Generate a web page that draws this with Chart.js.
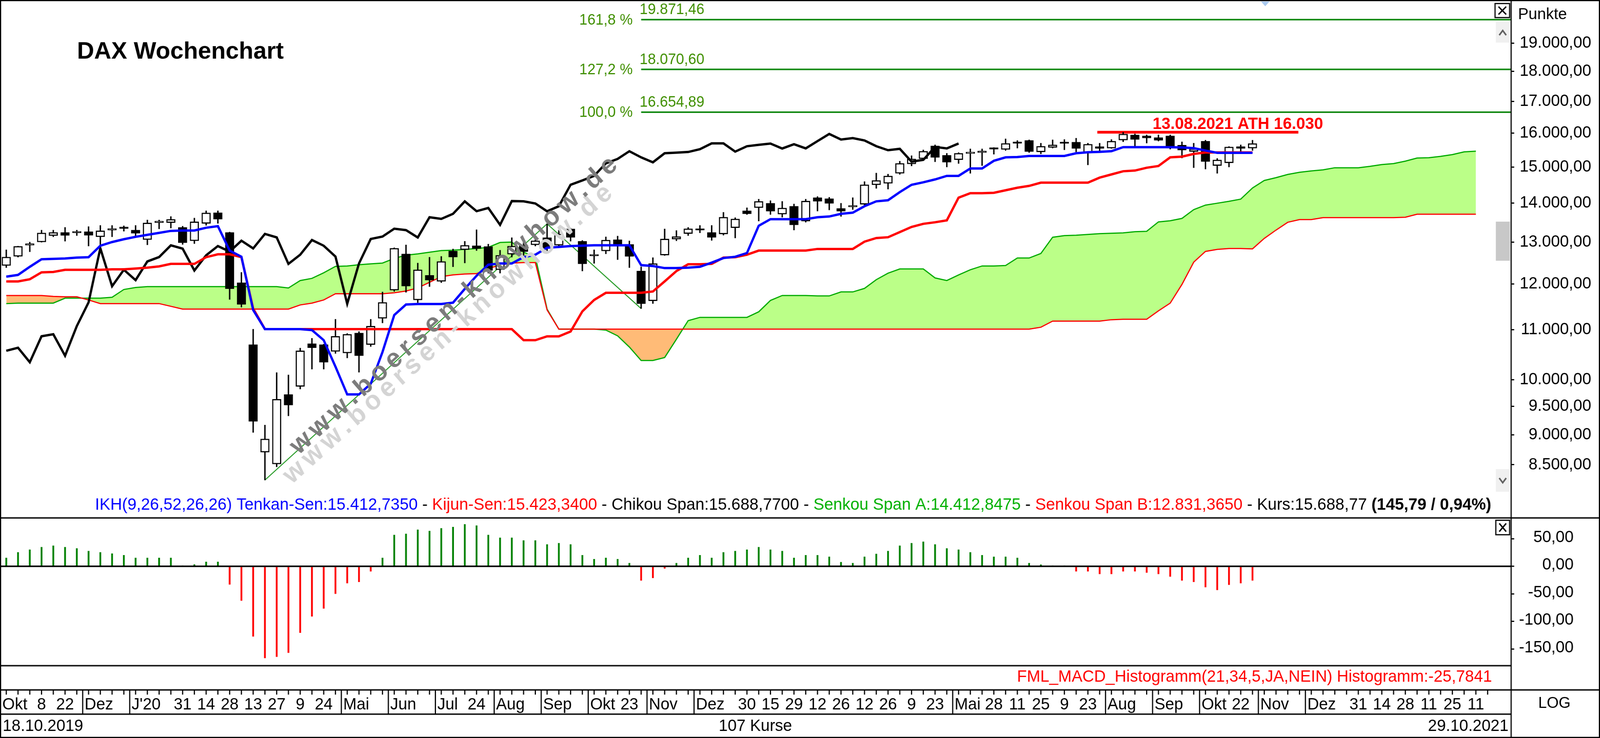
<!DOCTYPE html>
<html lang="de">
<head>
<meta charset="utf-8">
<title>DAX Wochenchart</title>
<script src="https://cdn.jsdelivr.net/npm/chart.js@4.4.1/dist/chart.umd.min.js"></script>
<style>
  html, body { margin: 0; padding: 0; background: #fff; overflow: hidden; }
  canvas { display: block; }
</style>
</head>
<body>
<canvas id="daxChart" width="4177" height="1888" style="width: 100vw; height: 100vh;"></canvas>
<script>
// weekly candles, 18.10.2019 (week 0) .. 29.10.2021 (week 106)
const opens = [12430, 12650, 12920, 13000, 13160, 13240, 13230, 13260, 13130, 13300,
  13380, 13300, 13060, 13490, 13490, 13370, 13030, 13470, 13750, 13240,
  12030, 10690, 8706, 8511, 9720, 9870, 10710, 10690, 10550, 10520,
  10930, 10690, 11240, 11860, 12710, 11640, 12200, 12060, 12780, 12810,
  12910, 12890, 12330, 12700, 12920, 12930, 13110, 12920, 13330, 13020,
  12660, 12780, 13060, 12940, 12300, 11620, 12680, 13070, 13210, 13320,
  13240, 13200, 13360, 13800, 13880, 14000, 13710, 13920, 13530, 14150,
  14120, 13860, 13900, 13970, 14500, 14540, 14820, 15090, 15240, 15620,
  15340, 15210, 15390, 15420, 15560, 15510, 15740, 15780, 15440, 15570,
  15700, 15730, 15420, 15600, 15550, 15790, 15950, 15920, 15870, 15920,
  15640, 15450, 15760, 15040, 15120, 15600, 15550];
const highs = [12810, 12900, 13000, 13300, 13300, 13370, 13300, 13390, 13420, 13420,
  13410, 13420, 13560, 13560, 13650, 13400, 13610, 13800, 13800, 13250,
  12270, 11010, 9170, 10135, 10090, 10620, 10820, 10700, 11220, 10920,
  10960, 11220, 11820, 12860, 12930, 12490, 12630, 12650, 12830, 13020,
  13310, 12950, 12800, 13110, 12990, 13100, 13460.45, 13300, 13350, 13040,
  12810, 13130, 13150, 13030, 12400, 12620, 13330, 13290, 13370, 13420,
  13420, 13760, 13620, 13880, 14110, 14070, 14050, 13980, 14110, 14180,
  14160, 14000, 14150, 14590, 14830, 14800, 15170, 15330, 15500, 15650,
  15400, 15420, 15530, 15530, 15570, 15830, 15780, 15800, 15700, 15800,
  15810, 15850, 15700, 15700, 15810, 16030, 15980, 15950, 15950, 15950,
  15740, 15700, 15790, 15250, 15600, 15650, 15790];
const lows = [12380, 12630, 12760, 12995, 13130, 13020, 13160, 12900, 12880, 13130,
  13270, 13160, 12930, 13330, 13350, 12940, 12960, 13420, 13470, 11650,
  11480, 9040, 8255.65, 8465, 9330, 9820, 10200, 10200, 10510, 10420,
  10140, 10650, 11140, 11830, 11810, 11580, 11940, 12030, 12400, 12490,
  12790, 12250, 12250, 12630, 12670, 12900, 12720, 12900, 13020, 12300,
  12480, 12710, 12570, 12380, 11450.08, 11560, 12670, 13030, 13160, 13230,
  13040, 13170, 13100, 13700, 13530, 13700, 13630, 13300, 13500, 13790,
  13820, 13650, 13830, 13940, 14400, 14380, 14790, 15030, 15200, 15150,
  15000, 15100, 14820, 15040, 15370, 15480, 15550, 15420, 15380, 15550,
  15500, 15440, 15060, 15470, 15540, 15740, 15560, 15700, 15760, 15520,
  15260, 14980, 14940, 14820, 15000, 15400, 15480];
const closes = [12634, 12895, 12961, 13229, 13242, 13164, 13236, 13167, 13283, 13319,
  13337, 13219, 13483, 13526, 13577, 12982, 13514, 13744, 13579, 11890,
  11541, 9232, 8929, 9632, 9525, 10565, 10626, 10336, 10861, 10904,
  10465, 11074, 11587, 12848, 11949, 12331, 12089, 12528, 12633, 12920,
  12838, 12313, 12675, 12901, 12765, 13033, 12842, 13203, 13116, 12469,
  12689, 13051, 12909, 12646, 11556, 12480, 13077, 13137, 13336, 13299,
  13114, 13631, 13587, 13719, 14050, 13788, 13874, 13433, 14057, 14050,
  13993, 13786, 13920, 14502, 14621, 14749, 15107, 15234, 15460, 15280,
  15136, 15400, 15417, 15437, 15520, 15693, 15693, 15448, 15608, 15650,
  15688, 15540, 15669, 15544, 15761, 15977, 15808, 15852, 15781, 15609,
  15490, 15531, 15156, 15206, 15587, 15542.98, 15688.77];

// Ichimoku lines
const tenkan = [12170, 12210, 12400, 12580, 12590, 12600, 12620, 12630, 12910, 13000,
  13070, 13130, 13180, 13230, 13280, 13290, 13290, 13360, 13400, 12790,
  12640, 11420, 11010, 11010, 11010, 11010, 10990, 10780, 10250, 9720,
  9720, 9920, 10540, 11310, 11540, 11550, 11550, 11550, 11580, 11890,
  12190, 12450, 12480, 12480, 12630, 12690, 12860, 12880, 12900, 12910,
  12920, 12920, 12920, 12920, 12440, 12420, 12370, 12370, 12380, 12400,
  12500, 12610, 12640, 12730, 13410, 13580, 13580, 13580, 13580, 13630,
  13650, 13720, 13750, 13920, 14050, 14080, 14300, 14500, 14570, 14650,
  14750, 14750, 14960, 14960, 15180, 15280, 15290, 15320, 15320, 15320,
  15320, 15400, 15430, 15440, 15460, 15580, 15580, 15580, 15580, 15580,
  15570, 15550, 15480, 15413, 15413, 15413, 15412.735];
const kijun = [12060, 12060, 12110, 12270, 12280, 12330, 12330, 12330, 12330, 12340,
  12340, 12360, 12380, 12410, 12470, 12470, 12470, 12630, 12700, 12700,
  12630, 11450, 11010, 11010, 11010, 11010, 11010, 11010, 11010, 11010,
  11010, 11010, 11010, 11010, 11010, 11010, 11010, 11010, 11010, 11010,
  11010, 11010, 11010, 11010, 10780, 10780, 10860, 10860, 10960, 11390,
  11640, 11800, 11800, 11800, 11800, 11830, 12060, 12300, 12460, 12460,
  12470, 12620, 12630, 12690, 12790, 12790, 12790, 12790, 12790, 12830,
  12830, 12830, 12830, 13010, 13100, 13120, 13250, 13380, 13460, 13500,
  13550, 14150, 14270, 14270, 14280, 14350, 14420, 14470, 14560, 14560,
  14560, 14560, 14560, 14700, 14790, 14880, 14900, 14980, 15030, 15280,
  15300, 15380, 15423, 15423, 15423, 15423, 15423.34];
// cloud, runs 19 weeks past the last candle
const senkouA = [11560, 11570, 11570, 11570, 11570, 11680, 11680, 11680, 11680, 11700,
  11875, 11920, 11940, 11940, 11940, 11940, 11940, 11940, 11940, 11940,
  11940, 11940, 11940, 11940, 11910, 12080, 12130, 12260, 12410, 12420,
  12450, 12470, 12490, 12600, 12680, 12710, 12750, 12790, 12800, 12820,
  12840, 12870, 12990, 13000, 12750, 12640, 11440, 11010, 11010, 11010,
  11010, 10990, 10870, 10640, 10370, 10370, 10430, 10800, 11190, 11260,
  11260, 11260, 11260, 11260, 11380, 11630, 11740, 11740, 11740, 11730,
  11730, 11820, 11820, 11900, 12100, 12250, 12350, 12350, 12350, 12140,
  12080, 12210, 12330, 12420, 12420, 12430, 12610, 12610, 12720, 13120,
  13160, 13170, 13190, 13210, 13220, 13230, 13260, 13270, 13510, 13540,
  13600, 13830, 13950, 14000, 14050, 14110, 14412.8475, 14620, 14700, 14790,
  14850, 14890, 14920, 14980, 14980, 14980, 15020, 15070, 15100, 15170,
  15260, 15270, 15310, 15360, 15440, 15460];
const senkouB = [11740, 11740, 11740, 11740, 11720, 11710, 11710, 11640, 11560, 11560,
  11560, 11560, 11560, 11560, 11500, 11440, 11440, 11440, 11440, 11440,
  11440, 11440, 11440, 11440, 11440, 11530, 11570, 11640, 11780, 11780,
  11780, 11780, 11780, 11800, 11840, 11910, 12040, 12170, 12210, 12230,
  12240, 12360, 12440, 12490, 12500, 12500, 11420, 11010, 11010, 11010,
  11010, 11010, 11010, 11010, 11010, 11010, 11010, 11010, 11010, 11010,
  11010, 11010, 11010, 11010, 11010, 11010, 11010, 11010, 11010, 11010,
  11010, 11010, 11010, 11010, 11010, 11010, 11010, 11010, 11010, 11010,
  11010, 11010, 11010, 11010, 11010, 11010, 11010, 11010, 11050, 11180,
  11180, 11180, 11180, 11180, 11210, 11220, 11220, 11220, 11400, 11570,
  11990, 12510, 12770, 12820, 12840, 12840, 12831.365, 13090, 13300, 13500,
  13570, 13570, 13620, 13620, 13620, 13620, 13620, 13620, 13620, 13630,
  13710, 13710, 13710, 13710, 13710, 13710];
const chikouShift = 25;

// FML_MACD_Histogramm(21,34,5)
const macdHist = [15.2, 25.3, 30.1, 34.7, 37.3, 34.7, 32.4, 27.6, 25.3, 23.0,
  20.1, 15.2, 15.2, 15.2, 15.2, 0.4, 3.2, 8.0, 8.0, -33.0,
  -62.3, -127.4, -166.5, -164.2, -157.0, -120.6, -91.0, -76.6, -49.9, -30.7,
  -28.4, -9.2, 15.2, 56.8, 58.8, 66.3, 64.0, 68.9, 71.2, 76.1,
  73.8, 56.8, 51.7, 51.7, 46.8, 46.8, 39.6, 41.9, 39.6, 20.1,
  12.9, 15.2, 12.9, 5.7, -25.8, -21.2, -4.0, 5.7, 15.2, 20.1,
  15.2, 25.3, 27.6, 30.1, 34.7, 30.1, 27.6, 15.2, 20.1, 20.1,
  17.2, 7.5, 5.7, 17.2, 22.4, 27.6, 37.3, 41.9, 44.5, 39.6,
  32.4, 30.1, 25.3, 20.1, 17.2, 17.2, 15.2, 5.7, 2.9, 0.4,
  0.3, -9.2, -9.2, -14.0, -14.0, -9.2, -9.2, -11.5, -14.0, -18.7,
  -25.8, -28.4, -37.9, -43.0, -33.6, -30.7, -25.7841];

// Fibonacci projection: low 03/2020, high 09/2020, low 10/2020
const fibWeeks = [22, 46, 54];
const fibPoints = [8255.65, 13460.45, 11450.08];
const fibLevels = [16654.89, 18070.60, 19871.46];
const fibPercent = ['100,0 %', '127,2 %', '161,8 %'];

const athValue = 16030;
const athWeeks = [93.3, 110.4];
const athLabel = '13.08.2021 ATH 16.030';

const priceTicks = [8500, 9000, 9500, 10000, 11000, 12000, 13000, 14000, 15000, 16000, 17000, 18000, 19000];
const macdTicks = [-150, -100, -50, 0, 50];

const monthLabels = [[0, 'Okt'], [7, 'Dez'], [11, 'J\'20'], [29, 'Mai'], [33, 'Jun'], [37, 'Jul'],
  [42, 'Aug'], [46, 'Sep'], [50, 'Okt'], [55, 'Nov'], [59, 'Dez'], [81, 'Mai'], [94, 'Aug'],
  [98, 'Sep'], [102, 'Okt'], [107, 'Nov'], [111, 'Dez']];
const dayLabels = [[3, '8'], [5, '22'], [15, '31'], [17, '14'], [19, '28'], [21, '13'], [23, '27'],
  [25, '9'], [27, '24'], [40, '24'], [53, '23'], [63, '30'], [65, '15'], [67, '29'], [69, '12'],
  [71, '26'], [73, '12'], [75, '26'], [77, '9'], [79, '23'], [84, '28'], [86, '11'], [88, '25'],
  [90, '9'], [92, '23'], [105, '22'], [115, '31'], [117, '14'], [119, '28'], [121, '11'],
  [123, '25'], [125, '11']];

// layout (canvas pixels)
const W = 4177;
const H = 1888;
const AXIS_X = 3945;
const PRICE_LABEL_RIGHT = 4154;
const MACD_LABEL_RIGHT = 4108;
const PRICE_BOTTOM = 1325;
const MACD_BOTTOM = 1703;
const FONT = '"Liberation Sans", Arial, sans-serif';
const font = (size, bold) => (bold ? 'bold ' : '') + size + 'px ' + FONT;

function fmtDe(v, d) {
  const s = Math.abs(v).toFixed(d).split('.');
  const int = s[0].replace(/\B(?=(\d{3})+(?!\d))/g, '.');
  return (v < 0 ? '-' : '') + int + (d ? ',' + s[1] : '');
}

function line(ctx, x1, y1, x2, y2) {
  ctx.beginPath();
  ctx.moveTo(x1, y1);
  ctx.lineTo(x2, y2);
  ctx.stroke();
}

// draws coloured text runs squeezed to a given width
function drawRuns(ctx, runs, x, y, width, size) {
  let total = 0;
  runs.forEach((r) => {
    ctx.font = font(size, r.bold);
    total += ctx.measureText(r.text).width;
  });
  const s = size * width / total;
  let cx = x;
  ctx.textAlign = 'left';
  ctx.textBaseline = 'alphabetic';
  runs.forEach((r) => {
    ctx.font = font(s, r.bold);
    ctx.fillStyle = r.color;
    ctx.fillText(r.text, cx, y);
    cx += ctx.measureText(r.text).width;
  });
}

// spaced diagonal watermark text
function drawWatermark(ctx, text, x0, y0, x1, y1, size, color) {
  const len = Math.hypot(x1 - x0, y1 - y0);
  ctx.save();
  ctx.translate(x0, y0);
  ctx.rotate(Math.atan2(y1 - y0, x1 - x0));
  ctx.font = font(size, true);
  ctx.fillStyle = color;
  ctx.textAlign = 'left';
  ctx.textBaseline = 'middle';
  const chars = [...text];
  const widths = chars.map((c) => ctx.measureText(c).width);
  const gap = (len - widths.reduce((a, b) => a + b, 0)) / (chars.length - 1);
  let cx = 0;
  chars.forEach((c, i) => {
    ctx.fillText(c, cx, 0);
    cx += widths[i] + gap;
  });
  ctx.restore();
}

function closeBox(ctx, x, y, w, h) {
  ctx.fillStyle = '#fff';
  ctx.fillRect(x, y, w, h);
  ctx.strokeStyle = '#000';
  ctx.lineWidth = 3;
  ctx.strokeRect(x, y, w, h);
  ctx.lineWidth = 3.5;
  line(ctx, x + 9, y + 8, x + w - 9, y + h - 8);
  line(ctx, x + w - 9, y + 8, x + 9, y + h - 8);
}

function chevron(ctx, cx, cy, up) {
  ctx.strokeStyle = '#606060';
  ctx.lineWidth = 4;
  const d = up ? -1 : 1;
  ctx.beginPath();
  ctx.moveTo(cx - 9, cy - d * 6);
  ctx.lineTo(cx, cy + d * 6);
  ctx.lineTo(cx + 9, cy - d * 6);
  ctx.stroke();
}

Chart.defaults.font.family = FONT;

const week = (arr) => arr.map((v, i) => ({ x: i + 0.5, y: v }));
const bodies = opens.map((o, i) => ({ x: i + 0.5, y: [o, closes[i]] }));
const wicks = lows.map((l, i) => ({ x: i + 0.5, y: [l, highs[i]] }));
const chikou = week(closes.slice(chikouShift));
const fibTrend = fibWeeks.map((w, i) => ({ x: w + 0.5, y: fibPoints[i] }));
const fibStart = fibWeeks[2] + 0.5;
const X_MAX = 128.5;

const lineDefaults = { type: 'line', yAxisID: 'y', pointRadius: 0, tension: 0, fill: false };

const fibDatasets = fibLevels.map((lvl) => ({
  ...lineDefaults,
  data: [{ x: fibStart, y: lvl }, { x: X_MAX, y: lvl }],
  borderColor: '#118811',
  borderWidth: 4,
  order: 17
}));

const canvas = document.getElementById('daxChart');
const ctx = canvas.getContext('2d');

const decor = {
  id: 'decor',
  beforeDraw(chart) {
    const c = chart.ctx;
    c.save();
    c.fillStyle = '#fff';
    c.fillRect(0, 0, W, H);
    c.restore();
  },
  afterDatasetsDraw(chart) {
    const c = chart.ctx;
    const m = chart.scales.m;
    c.save();
    drawWatermark(c, 'www.boersen-knowhow.de', 749, 1226, 1590, 485, 68, '#d4d4d4');
    drawWatermark(c, 'www.boersen-knowhow.de', 767, 1151, 1603, 413, 68, '#7c7c7c');
    // MACD zero line
    c.strokeStyle = '#000';
    c.lineWidth = 4;
    const y0 = m.getPixelForValue(0);
    line(c, 0, y0, AXIS_X, y0);
    c.restore();
  },
  afterDraw(chart) {
    const c = chart.ctx;
    const xs = chart.scales.x;
    const ys = chart.scales.y;
    const ms = chart.scales.m;
    c.save();

    // title
    c.fillStyle = '#000';
    c.font = font(62, true);
    c.textAlign = 'left';
    c.textBaseline = 'alphabetic';
    c.fillText('DAX Wochenchart', 201, 150);

    // MACD axis labels, right aligned closer to the axis than the price labels
    c.font = font(42);
    c.textAlign = 'right';
    c.textBaseline = 'middle';
    ms.ticks.forEach((t) => {
      c.fillText(fmtDe(t.value, 2), MACD_LABEL_RIGHT, ms.getPixelForValue(t.value) - 3);
    });

    // fibonacci labels
    const fx = xs.getPixelForValue(fibStart);
    c.fillStyle = '#3f8f00';
    c.font = font(38);
    fibLevels.forEach((lvl, i) => {
      const y = ys.getPixelForValue(lvl);
      c.textAlign = 'right';
      c.textBaseline = 'middle';
      c.fillText(fibPercent[i], fx - 22, y + 2);
      c.textAlign = 'left';
      c.textBaseline = 'alphabetic';
      c.fillText(fmtDe(lvl, 2), fx - 4, y - 14);
    });

    // ATH label
    c.fillStyle = '#ff0000';
    c.font = font(42, true);
    c.textAlign = 'left';
    c.fillText(athLabel, xs.getPixelForValue(98), ys.getPixelForValue(athValue) - 8);

    // indicator legend
    const last = closes.length - 1;
    const chg = closes[last] - closes[last - 1];
    const sep = { text: ' - ', color: '#000' };
    drawRuns(c, [
      { text: 'IKH(9,26,52,26,26) Tenkan-Sen:' + fmtDe(tenkan[last], 4), color: '#0000ff' }, sep,
      { text: 'Kijun-Sen:' + fmtDe(kijun[last], 4), color: '#ff0000' }, sep,
      { text: 'Chikou Span:' + fmtDe(closes[last], 4), color: '#000' }, sep,
      { text: 'Senkou Span A:' + fmtDe(senkouA[last], 4), color: '#00b000' }, sep,
      { text: 'Senkou Span B:' + fmtDe(senkouB[last], 4), color: '#ff0000' }, sep,
      { text: 'Kurs:' + fmtDe(closes[last], 2) + ' ', color: '#000' },
      { text: '(' + fmtDe(chg, 2) + ' / ' + fmtDe(chg / closes[last - 1] * 100, 2) + '%)', color: '#000', bold: true }
    ], 248, 1304, 3647, 40);

    drawRuns(c, [
      { text: 'FML_MACD_Histogramm(21,34,5,JA,NEIN) Histogramm:' + fmtDe(macdHist[last], 4), color: '#ff0000' }
    ], 2655, 1744, 1240, 38);

    // pane separators and frame
    c.strokeStyle = '#222';
    c.lineWidth = 4;
    line(c, 0, PRICE_BOTTOM, W, PRICE_BOTTOM);
    line(c, 0, MACD_BOTTOM, AXIS_X, MACD_BOTTOM);
    line(c, 0, 1765, W, 1765);
    line(c, 0, 1827, AXIS_X, 1827);
    c.strokeStyle = '#000';
    c.lineWidth = 3;
    line(c, AXIS_X, 0, AXIS_X, H);
    c.strokeRect(1.5, 1.5, W - 3, H - 3);

    // time axis
    c.lineWidth = 3;
    for (let w = 0; w + 0.5 < X_MAX - 1; w++) {
      const p = xs.getPixelForValue(w + 0.5);
      line(c, p, 1765, p, 1777);
    }
    c.fillStyle = '#000';
    c.font = font(42);
    c.textBaseline = 'alphabetic';
    c.textAlign = 'left';
    monthLabels.forEach(([w, t]) => {
      const p = xs.getPixelForValue(w);
      line(c, p, 1765, p, 1827);
      c.fillText(t, p + 5, 1815);
    });
    c.textAlign = 'center';
    dayLabels.forEach(([w, t]) => {
      c.fillText(t, xs.getPixelForValue(w + 0.5), 1815);
    });
    c.textAlign = 'left';
    c.fillText('18.10.2019', 7, 1870);
    c.textAlign = 'center';
    c.fillText(closes.length + ' Kurse', 1972, 1870);
    c.textAlign = 'right';
    c.fillText('29.10.2021', 3938, 1870);
    c.font = font(40);
    c.textAlign = 'center';
    c.fillText('LOG', 4058, 1811);
    c.textAlign = 'left';
    c.font = font(41);
    c.fillText('Punkte', 3963, 49);

    // scroll column
    c.fillStyle = '#f0f0f0';
    c.fillRect(3905, 56, 37, 53);
    c.fillRect(3905, 1200, 37, 58);
    c.fillStyle = '#c8c8c8';
    c.fillRect(3905, 567, 37, 100);
    chevron(c, 3923, 84, true);
    chevron(c, 3923, 1229, false);
    closeBox(c, 3903, 9, 38, 36);
    closeBox(c, 3905, 1331, 36, 37);

    // marker at the top
    c.fillStyle = '#a9c9ef';
    c.beginPath();
    c.moveTo(3292, 4);
    c.lineTo(3314, 4);
    c.lineTo(3303, 16);
    c.closePath();
    c.fill();

    c.restore();
  }
};

const axisTicks = (values) => (s) => { s.ticks = values.map((v) => ({ value: v })); };
const axisFit = (s) => {
  s.width = PRICE_LABEL_RIGHT - AXIS_X;
  s.paddingTop = 0;
  s.paddingBottom = 0;
};
const gridStyle = { drawOnChartArea: false, drawTicks: true, tickLength: 8, color: '#000', lineWidth: 3 };

new Chart(ctx, {
  type: 'bar',
  data: {
    datasets: [
      {
        ...lineDefaults,
        data: week(senkouA),
        borderColor: '#00aa00',
        borderWidth: 3,
        fill: { target: 1, above: '#bbff88', below: '#ffbb77' },
        order: 20
      },
      { ...lineDefaults, data: week(senkouB), borderColor: '#ff0000', borderWidth: 3, order: 19 },
      { ...lineDefaults, data: fibTrend, borderColor: '#229922', borderWidth: 2.5, order: 18 },
      ...fibDatasets,
      {
        ...lineDefaults,
        data: [{ x: athWeeks[0], y: athValue }, { x: athWeeks[1], y: athValue }],
        borderColor: '#ff0000',
        borderWidth: 7,
        order: 16
      },
      {
        type: 'bar',
        yAxisID: 'y',
        data: wicks,
        grouped: false,
        barThickness: 3,
        maxBarThickness: 3,
        backgroundColor: '#000',
        borderWidth: 0,
        order: 15
      },
      {
        type: 'bar',
        yAxisID: 'y',
        data: bodies,
        grouped: false,
        barThickness: 23,
        maxBarThickness: 23,
        minBarLength: 4,
        backgroundColor: opens.map((o, i) => (closes[i] >= o ? '#ffffff' : '#000000')),
        borderColor: '#000',
        borderWidth: 3,
        borderSkipped: false,
        order: 14
      },
      { ...lineDefaults, data: chikou, borderColor: '#000', borderWidth: 6, order: 13 },
      { ...lineDefaults, data: week(kijun), borderColor: '#ff0000', borderWidth: 6, order: 12 },
      { ...lineDefaults, data: week(tenkan), borderColor: '#0000ff', borderWidth: 6, order: 11 },
      {
        type: 'bar',
        yAxisID: 'm',
        data: week(macdHist),
        grouped: false,
        barThickness: 4,
        maxBarThickness: 4,
        backgroundColor: macdHist.map((v) => (v >= 0 ? '#008000' : '#ff0000')),
        borderWidth: 0,
        order: 10
      }
    ]
  },
  options: {
    responsive: false,
    animation: false,
    devicePixelRatio: 1,
    events: [],
    layout: { padding: { left: 1, right: W - PRICE_LABEL_RIGHT, top: 0, bottom: H - MACD_BOTTOM } },
    plugins: {
      legend: { display: false },
      tooltip: { enabled: false }
    },
    scales: {
      x: { type: 'linear', min: 0, max: X_MAX, offset: false, display: false, bounds: 'data' },
      y: {
        type: 'logarithmic',
        position: 'right',
        stack: 'panes',
        stackWeight: PRICE_BOTTOM,
        min: 7680,
        max: 20630,
        bounds: 'data',
        afterBuildTicks: axisTicks(priceTicks),
        afterFit: axisFit,
        grid: gridStyle,
        border: { display: false },
        ticks: {
          callback: (v) => fmtDe(v, 2),
          color: '#000',
          font: { size: 42 },
          padding: 14,
          crossAlign: 'far',
          autoSkip: false,
          maxRotation: 0
        }
      },
      m: {
        type: 'linear',
        position: 'right',
        stack: 'panes',
        stackWeight: MACD_BOTTOM - PRICE_BOTTOM,
        min: -180.4,
        max: 87.7,
        bounds: 'data',
        afterBuildTicks: axisTicks(macdTicks),
        afterFit: axisFit,
        grid: gridStyle,
        border: { display: false },
        ticks: { display: false }
      }
    }
  },
  plugins: [decor]
});

// fit the fixed-size drawing to the visible window
canvas.style.width = window.innerWidth + 'px';
canvas.style.height = window.innerHeight + 'px';
</script>
</body>
</html>
